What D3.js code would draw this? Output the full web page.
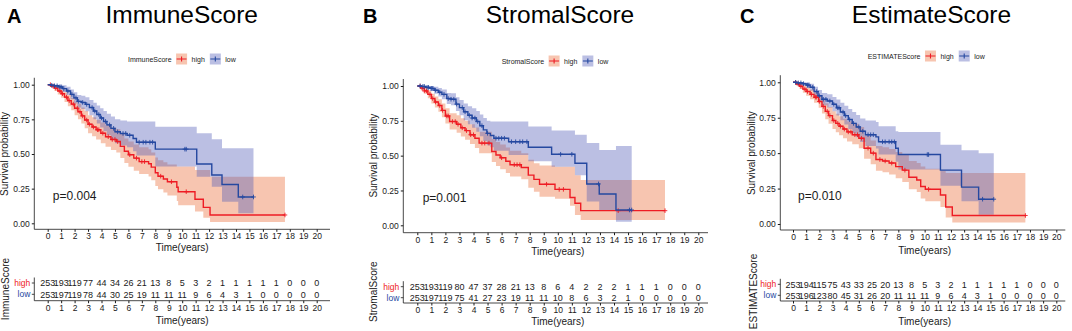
<!DOCTYPE html>
<html>
<head>
<meta charset="utf-8">
<script src="https://cdn.jsdelivr.net/npm/d3@7"></script>
<style>
body { margin: 0; background: #fff; }
svg { display: block; font-family: Arial, "Liberation Sans", Helvetica, sans-serif; }
</style>
</head>
<body>
<svg id="chart" width="1072" height="331"></svg>
<script>
// rows are [time, survival, lower CI, upper CI]
var immuneHigh = [[0, 1, 1, 1], [0.25, 0.99, 0.978, 1], [0.5, 0.975, 0.955, 0.995], [0.75, 0.955, 0.93, 0.98],
    [1.0, 0.935, 0.905, 0.965], [1.25, 0.91, 0.875, 0.945], [1.5, 0.885, 0.845, 0.925], [1.75, 0.86, 0.815, 0.905],
    [2.0, 0.83, 0.78, 0.88], [2.25, 0.805, 0.75, 0.86], [2.5, 0.775, 0.72, 0.835], [2.75, 0.745, 0.685, 0.81],
    [3.0, 0.715, 0.65, 0.78], [3.3, 0.695, 0.628, 0.765], [3.6, 0.675, 0.605, 0.748], [3.95, 0.65, 0.578, 0.728],
    [4.3, 0.625, 0.552, 0.708], [4.7, 0.605, 0.528, 0.69], [5.1, 0.59, 0.51, 0.678], [5.4, 0.555, 0.472, 0.645],
    [5.7, 0.52, 0.435, 0.612], [6.0, 0.495, 0.408, 0.59], [6.4, 0.47, 0.38, 0.568], [6.8, 0.445, 0.355, 0.548],
    [7.5, 0.43, 0.338, 0.535], [7.7, 0.405, 0.31, 0.51], [8.0, 0.365, 0.27, 0.475], [8.2, 0.34, 0.245, 0.455],
    [8.6, 0.32, 0.222, 0.44], [8.9, 0.3, 0.2, 0.425], [9.6, 0.26, 0.16, 0.41], [9.7, 0.228, 0.13, 0.41],
    [10.95, 0.173, 0.085, 0.385], [11.57, 0.115, 0.04, 0.385], [12.07, 0.06, 0.01, 0.336], [17.64, 0.06, 0.01, 0.336]];
var immuneLow = [[0, 1, 1, 1], [0.25, 0.996, 0.988, 1], [0.5, 0.992, 0.978, 1], [0.8, 0.984, 0.965, 1],
    [1.1, 0.972, 0.948, 0.996], [1.4, 0.955, 0.925, 0.985], [1.7, 0.93, 0.895, 0.965], [1.95, 0.905, 0.865, 0.945],
    [2.2, 0.88, 0.835, 0.925], [2.5, 0.872, 0.825, 0.92], [2.8, 0.858, 0.808, 0.91], [3.1, 0.835, 0.78, 0.89],
    [3.4, 0.81, 0.75, 0.87], [3.65, 0.785, 0.72, 0.85], [3.9, 0.76, 0.692, 0.83], [4.15, 0.735, 0.665, 0.81],
    [4.4, 0.71, 0.635, 0.79], [4.7, 0.685, 0.605, 0.77], [5.0, 0.66, 0.578, 0.75], [5.4, 0.648, 0.562, 0.742],
    [5.9, 0.635, 0.548, 0.735], [6.35, 0.612, 0.52, 0.735], [6.6, 0.585, 0.49, 0.735], [8.0, 0.535, 0.41, 0.697],
    [11.08, 0.428, 0.336, 0.649], [12.2, 0.348, 0.264, 0.606], [12.96, 0.28, 0.156, 0.541],
    [14.17, 0.19, 0.072, 0.541], [15.3, 0.19, 0.072, 0.541]];
var immuneHighCensor = [0.2, 0.4, 0.6, 0.9, 1.1, 1.4, 1.6, 1.9, 2.2, 2.4, 2.6, 2.9, 3.1, 3.4, 3.7, 3.8, 4.1, 4.5,
    4.8, 5.0, 5.2, 6.1, 6.6, 7.0, 7.2, 8.4, 9.2, 10.3, 17.64];
var immuneLowCensor = [0.3, 0.5, 0.7, 0.9, 1.0, 1.2, 1.5, 1.8, 2.1, 2.3, 2.6, 2.9, 3.3, 3.5, 3.8, 4.0, 4.3, 4.6,
    4.9, 5.2, 5.6, 5.8, 6.1, 6.8, 7.1, 7.3, 7.6, 7.8, 10.2, 10.3, 14.5, 15.3];

var stromalHigh = [[0, 1, 1, 1], [0.25, 0.985, 0.97, 1], [0.5, 0.965, 0.945, 0.988], [0.75, 0.94, 0.912, 0.968],
    [1.0, 0.91, 0.875, 0.945], [1.25, 0.885, 0.845, 0.925], [1.5, 0.86, 0.815, 0.905], [1.75, 0.825, 0.775, 0.875],
    [2.0, 0.785, 0.73, 0.84], [2.3, 0.745, 0.688, 0.805], [2.8, 0.725, 0.665, 0.79], [3.1, 0.7, 0.637, 0.768],
    [3.4, 0.68, 0.615, 0.75], [3.75, 0.65, 0.583, 0.725], [4.1, 0.625, 0.555, 0.702], [4.4, 0.59, 0.518, 0.672],
    [5.3, 0.53, 0.455, 0.62], [5.6, 0.505, 0.425, 0.598], [5.9, 0.485, 0.403, 0.58], [6.3, 0.46, 0.375, 0.558],
    [6.6, 0.435, 0.35, 0.535], [7.4, 0.415, 0.33, 0.518], [7.9, 0.36, 0.27, 0.47], [8.3, 0.33, 0.24, 0.445],
    [8.7, 0.295, 0.205, 0.43], [9.8, 0.258, 0.19, 0.42], [10.87, 0.2, 0.14, 0.42], [11.22, 0.158, 0.074, 0.36],
    [11.63, 0.105, 0.038, 0.325], [17.63, 0.105, 0.038, 0.325]];
var stromalLow = [[0, 1, 1, 1], [0.3, 0.997, 0.99, 1], [0.6, 0.99, 0.978, 1], [0.9, 0.983, 0.965, 1],
    [1.2, 0.97, 0.945, 0.995], [1.5, 0.955, 0.925, 0.985], [1.75, 0.94, 0.905, 0.975], [2.1, 0.91, 0.87, 0.95],
    [2.4, 0.905, 0.862, 0.948], [2.75, 0.87, 0.82, 0.92], [3.0, 0.845, 0.79, 0.9], [3.3, 0.815, 0.755, 0.875],
    [3.6, 0.79, 0.725, 0.855], [3.9, 0.77, 0.7, 0.84], [4.2, 0.745, 0.672, 0.82], [4.45, 0.715, 0.64, 0.795],
    [4.7, 0.685, 0.605, 0.77], [4.95, 0.66, 0.575, 0.75], [5.2, 0.645, 0.56, 0.745], [5.45, 0.625, 0.535, 0.745],
    [6.5, 0.6, 0.505, 0.745], [7.9, 0.56, 0.46, 0.71], [9.56, 0.51, 0.42, 0.68], [11.22, 0.445, 0.36, 0.65],
    [12.06, 0.297, 0.17, 0.59], [12.95, 0.225, 0.11, 0.54], [14.14, 0.11, 0.026, 0.57], [15.26, 0.11, 0.026, 0.57]];
var stromalHighCensor = [0.2, 0.35, 0.5, 0.65, 0.9, 1.1, 1.3, 1.6, 1.8, 2.1, 2.2, 2.5, 2.7, 2.9, 3.2, 3.5, 3.8,
    4.0, 4.6, 4.8, 5.1, 6.0, 6.9, 7.1, 7.3, 9.2, 10.1, 10.4, 14.3, 17.63];
var stromalLowCensor = [0.2, 0.4, 0.5, 0.7, 0.8, 1.0, 1.1, 1.3, 1.6, 1.9, 2.2, 2.4, 2.6, 2.8, 3.2, 3.4, 3.7, 3.9,
    4.1, 4.3, 4.6, 5.0, 5.6, 5.8, 6.0, 6.2, 6.7, 7.0, 7.3, 7.5, 7.8, 10.2, 11.0, 12.9, 15.1, 15.26];

var estimateHigh = [[0, 1, 1, 1], [0.25, 0.988, 0.975, 1], [0.5, 0.972, 0.952, 0.992], [0.75, 0.952, 0.926, 0.978],
    [1.0, 0.935, 0.905, 0.965], [1.3, 0.915, 0.88, 0.95], [1.6, 0.895, 0.855, 0.935], [1.95, 0.865, 0.82, 0.91],
    [2.2, 0.83, 0.78, 0.88], [2.45, 0.795, 0.74, 0.852], [2.7, 0.765, 0.708, 0.826], [3.0, 0.73, 0.67, 0.795],
    [3.25, 0.71, 0.648, 0.778], [3.5, 0.69, 0.626, 0.76], [3.8, 0.67, 0.605, 0.743], [4.1, 0.65, 0.583, 0.725],
    [4.5, 0.63, 0.562, 0.707], [5.0, 0.605, 0.535, 0.685], [5.4, 0.535, 0.46, 0.622], [5.9, 0.5, 0.422, 0.59],
    [6.3, 0.455, 0.375, 0.55], [6.8, 0.445, 0.365, 0.542], [7.3, 0.43, 0.35, 0.53], [7.8, 0.405, 0.323, 0.508],
    [8.3, 0.38, 0.297, 0.487], [8.8, 0.33, 0.245, 0.445], [9.4, 0.31, 0.225, 0.43], [9.7, 0.265, 0.18, 0.405],
    [10.05, 0.245, 0.16, 0.39], [11.2, 0.205, 0.12, 0.375], [11.6, 0.12, 0.045, 0.36], [12.1, 0.06, 0.01, 0.36],
    [17.65, 0.06, 0.01, 0.36]];
var estimateLow = [[0, 1, 1, 1], [0.3, 0.996, 0.988, 1], [0.7, 0.99, 0.975, 1], [1.0, 0.98, 0.96, 0.998],
    [1.3, 0.965, 0.94, 0.99], [1.6, 0.935, 0.905, 0.968], [1.9, 0.905, 0.868, 0.945], [2.2, 0.88, 0.838, 0.925],
    [2.6, 0.868, 0.822, 0.915], [3.0, 0.845, 0.795, 0.897], [3.3, 0.82, 0.765, 0.878], [3.6, 0.79, 0.732, 0.855],
    [3.9, 0.765, 0.702, 0.835], [4.2, 0.737, 0.67, 0.812], [4.5, 0.71, 0.64, 0.79], [4.8, 0.685, 0.612, 0.77],
    [5.1, 0.655, 0.578, 0.745], [5.5, 0.63, 0.55, 0.73], [6.3, 0.615, 0.532, 0.72], [6.5, 0.58, 0.49, 0.69],
    [7.8, 0.535, 0.44, 0.655], [8.0, 0.49, 0.385, 0.65], [11.2, 0.38, 0.27, 0.56], [12.8, 0.26, 0.16, 0.52],
    [14.1, 0.175, 0.065, 0.5], [15.25, 0.175, 0.065, 0.5]];
var estimateHighCensor = [0.2, 0.4, 0.6, 0.9, 1.1, 1.4, 1.7, 1.8, 2.0, 2.3, 2.6, 2.8, 3.1, 3.4, 3.6, 3.9, 4.2,
    4.4, 4.7, 4.9, 5.2, 5.7, 6.1, 6.6, 7.0, 7.5, 8.5, 10.3, 17.65];
var estimateLowCensor = [0.2, 0.4, 0.6, 0.8, 1.1, 1.2, 1.5, 1.8, 2.0, 2.3, 2.5, 2.8, 3.1, 3.4, 3.5, 3.8, 4.0, 4.3,
    4.6, 5.0, 5.3, 5.7, 5.9, 6.1, 6.8, 7.0, 7.3, 7.5, 7.7, 10.2, 10.3, 14.4, 15.25];

// numbers at risk, years 0..20
var immuneRiskHigh = [253, 193, 119, 77, 44, 34, 26, 21, 13, 8, 5, 3, 2, 1, 1, 1, 1, 1, 0, 0, 0];
var immuneRiskLow = [253, 197, 119, 78, 44, 30, 25, 19, 11, 11, 11, 9, 6, 4, 3, 1, 0, 0, 0, 0, 0];
var stromalRiskHigh = [253, 193, 119, 80, 47, 37, 28, 21, 13, 8, 6, 4, 2, 2, 2, 1, 1, 1, 0, 0, 0];
var stromalRiskLow = [253, 197, 119, 75, 41, 27, 23, 19, 11, 11, 10, 8, 6, 3, 2, 1, 0, 0, 0, 0, 0];
var estimateRiskHigh = [253, 194, 115, 75, 43, 33, 25, 20, 13, 8, 5, 3, 2, 1, 1, 1, 1, 1, 0, 0, 0];
var estimateRiskLow = [253, 196, 123, 80, 45, 31, 26, 20, 11, 11, 11, 9, 6, 4, 3, 1, 0, 0, 0, 0, 0];

var years = d3.range(0, 21);
var yTicks = [0, 0.25, 0.5, 0.75, 1];

var RED = '#ee1c24', BLUE = '#2548a0';
var RED_FILL = '#ec6d3a', BLUE_FILL = '#5560b8';
var FILL_OPACITY = 0.4;
var INK = '#1a1a1a';

var panels = [
    {letter: 'A', title: 'ImmuneScore', legendTitle: 'ImmuneScore', tableTitle: 'ImmuneScore', pval: 'p=0.004',
        high: immuneHigh, low: immuneLow, highCensor: immuneHighCensor, lowCensor: immuneLowCensor,
        riskHigh: immuneRiskHigh, riskLow: immuneRiskLow,
        letterX: 7, titleX: 181.7, legendX: 128, legendY: 59,
        axisX: 34.3, x0: 47.7, x20: 316.7, y1: 84.7, y0: 223.3, axisY: 229.3, axisRight: 330,
        survLabelX: 8, timeY: 250.5, highRow: 283, lowRow: 294.3, tableAxisY: 300.7, tableTimeY: 323.5,
        tableLabelX: 9, tableLabelY: 289},
    {letter: 'B', title: 'StromalScore', legendTitle: 'StromalScore', tableTitle: 'StromalScore', pval: 'p=0.001',
        high: stromalHigh, low: stromalLow, highCensor: stromalHighCensor, lowCensor: stromalLowCensor,
        riskHigh: stromalRiskHigh, riskLow: stromalRiskLow,
        letterX: 363, titleX: 560, legendX: 501.7, legendY: 61,
        axisX: 403.3, x0: 417.3, x20: 698.3, y1: 86, y0: 225.3, axisY: 232.7, axisRight: 708,
        survLabelX: 377, timeY: 255, highRow: 286.7, lowRow: 297.7, tableAxisY: 303, tableTimeY: 325,
        tableLabelX: 377, tableLabelY: 291.7},
    {letter: 'C', title: 'EstimateScore', legendTitle: 'ESTIMATEScore', tableTitle: 'ESTIMATEScore', pval: 'p=0.010',
        high: estimateHigh, low: estimateLow, highCensor: estimateHighCensor, lowCensor: estimateLowCensor,
        riskHigh: estimateRiskHigh, riskLow: estimateRiskLow,
        letterX: 740, titleX: 931.5, legendX: 867.7, legendY: 56,
        axisX: 780.3, x0: 793, x20: 1056.3, y1: 82.3, y0: 224, axisY: 230, axisRight: 1065.3,
        survLabelX: 755, timeY: 253.5, highRow: 284.3, lowRow: 295.3, tableAxisY: 301, tableTimeY: 324.5,
        tableLabelX: 757, tableLabelY: 291.5}
];

var stepValue = function (rows, t) {
    var i = d3.bisector(function (d) { return d[0]; }).right(rows, t) - 1;
    return rows[Math.max(0, i)][1];
};

var drawLegend = function (g, p) {
    var leg = g.append('g').attr('transform', 'translate(' + p.legendX + ',' + p.legendY + ')');
    var title = leg.append('text').attr('y', 2.5).attr('font-size', 7).attr('fill', INK).text(p.legendTitle);
    var xPos = title.node().getComputedTextLength() + 4.5;
    [[RED, RED_FILL, 'high'], [BLUE, BLUE_FILL, 'low']].forEach(function (k) {
        var key = leg.append('g').attr('transform', 'translate(' + xPos + ',0)');
        key.append('rect').attr('x', 0).attr('y', -5.5).attr('width', 11).attr('height', 11)
            .attr('fill', k[1]).attr('fill-opacity', FILL_OPACITY);
        key.append('path').attr('d', 'M0.5,0H10.5M5.5,-2.5V2.5')
            .attr('stroke', k[0]).attr('stroke-width', 1.1).attr('fill', 'none');
        var lab = key.append('text').attr('x', 15.5).attr('y', 2.5).attr('font-size', 7).attr('fill', INK).text(k[2]);
        xPos += 15.5 + lab.node().getComputedTextLength() + 5;
    });
};

var drawPanel = function (svg, p) {
    var x = d3.scaleLinear().domain([0, 20]).range([p.x0, p.x20]);
    var y = d3.scaleLinear().domain([0, 1]).range([p.y0, p.y1]);
    var g = svg.append('g');

    g.append('text').attr('x', p.letterX).attr('y', 23).attr('font-size', 20).attr('font-weight', 'bold')
        .attr('fill', '#000').text(p.letter);
    g.append('text').attr('x', p.titleX).attr('y', 22.5).attr('text-anchor', 'middle').attr('font-size', 24.5)
        .attr('fill', '#000').text(p.title);

    drawLegend(g, p);

    var band = d3.area().curve(d3.curveStepAfter)
        .x(function (d) { return x(d[0]); })
        .y0(function (d) { return y(d[2]); })
        .y1(function (d) { return y(d[3]); });
    var line = d3.line().curve(d3.curveStepAfter)
        .x(function (d) { return x(d[0]); })
        .y(function (d) { return y(d[1]); });

    var groups = [
        {rows: p.high, censor: p.highCensor, color: RED, fill: RED_FILL},
        {rows: p.low, censor: p.lowCensor, color: BLUE, fill: BLUE_FILL}
    ];

    groups.forEach(function (grp) {
        g.append('path').datum(grp.rows).attr('d', band)
            .attr('fill', grp.fill).attr('fill-opacity', FILL_OPACITY).attr('stroke', 'none');
    });
    groups.forEach(function (grp) {
        g.append('path').datum(grp.rows).attr('d', line)
            .attr('fill', 'none').attr('stroke', grp.color).attr('stroke-width', 1.4);
        g.selectAll(null).data(grp.censor).enter().append('path')
            .attr('d', 'M-2.3,0H2.3M0,-2.3V2.3')
            .attr('transform', function (t) { return 'translate(' + x(t) + ',' + y(stepValue(grp.rows, t)) + ')'; })
            .attr('stroke', grp.color).attr('stroke-width', 0.9).attr('fill', 'none');
    });

    // axes of the survival plot
    var yAxis = g.append('g').attr('transform', 'translate(' + p.axisX + ',0)')
        .call(d3.axisLeft(y).tickValues(yTicks).tickFormat(d3.format('.2f')).tickSize(2.5).tickPadding(2));
    var xAxis = g.append('g').attr('transform', 'translate(0,' + p.axisY + ')')
        .call(d3.axisBottom(x).tickValues(years).tickSize(2.5).tickPadding(1.5));
    [yAxis, xAxis].forEach(function (a) {
        a.select('.domain').remove();
        a.selectAll('line').attr('stroke', INK);
        a.selectAll('text').attr('font-size', 8.5).attr('fill', INK).attr('font-family', null);
    });
    var yTop = p.y1 - (p.y0 - p.y1) * 0.05;
    g.append('path').attr('d', 'M' + p.axisX + ',' + yTop + 'V' + p.axisY + 'H' + p.axisRight)
        .attr('fill', 'none').attr('stroke', INK).attr('stroke-width', 0.8);

    g.append('text').attr('transform', 'translate(' + p.survLabelX + ',' + (p.y0 + p.y1) / 2 + ') rotate(-90)')
        .attr('text-anchor', 'middle').attr('font-size', 10).attr('fill', INK).text('Survival probability');
    g.append('text').attr('x', (p.x0 + p.x20) / 2).attr('y', p.timeY).attr('text-anchor', 'middle')
        .attr('font-size', 10).attr('fill', INK).text('Time(years)');
    g.append('text').attr('x', x(0.38)).attr('y', y(0.17)).attr('font-size', 12).attr('fill', INK).text(p.pval);

    // risk table
    var rows = [[p.riskHigh, p.highRow, RED, 'high'], [p.riskLow, p.lowRow, BLUE, 'low']];
    rows.forEach(function (r) {
        g.selectAll(null).data(r[0]).enter().append('text')
            .attr('x', function (d, i) { return x(years[i]); })
            .attr('y', r[1] + 3.2)
            .attr('text-anchor', 'middle').attr('font-size', 9).attr('fill', INK)
            .text(function (d) { return d; });
        g.append('text').attr('x', p.axisX - 4).attr('y', r[1] + 3).attr('text-anchor', 'end')
            .attr('font-size', 8.5).attr('fill', r[2]).text(r[3]);
        g.append('line').attr('x1', p.axisX - 2.5).attr('x2', p.axisX).attr('y1', r[1]).attr('y2', r[1])
            .attr('stroke', INK).attr('stroke-width', 0.8);
    });
    var tAxis = g.append('g').attr('transform', 'translate(0,' + p.tableAxisY + ')')
        .call(d3.axisBottom(x).tickValues(years).tickSize(2.5).tickPadding(1.5));
    tAxis.select('.domain').remove();
    tAxis.selectAll('line').attr('stroke', INK);
    tAxis.selectAll('text').attr('font-size', 8.5).attr('fill', INK).attr('font-family', null);
    g.append('path').attr('d', 'M' + p.axisX + ',' + (p.highRow - 5.5) + 'V' + p.tableAxisY + 'H' + p.axisRight)
        .attr('fill', 'none').attr('stroke', INK).attr('stroke-width', 0.8);
    g.append('text').attr('x', (p.x0 + p.x20) / 2).attr('y', p.tableTimeY).attr('text-anchor', 'middle')
        .attr('font-size', 10).attr('fill', INK).text('Time(years)');
    g.append('text').attr('transform', 'translate(' + p.tableLabelX + ',' + p.tableLabelY + ') rotate(-90)')
        .attr('text-anchor', 'middle').attr('font-size', 10).attr('fill', INK).text(p.tableTitle);
};

var visualize = function () {
    var svg = d3.select('#chart');
    panels.forEach(function (p) { drawPanel(svg, p); });
};

visualize();
</script>
</body>
</html>
